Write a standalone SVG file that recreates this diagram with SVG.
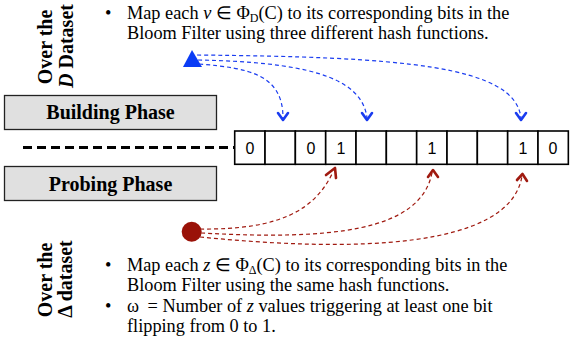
<svg xmlns="http://www.w3.org/2000/svg" width="579" height="347" viewBox="0 0 579 347">
<defs>
<style>
.txt{font-family:"Liberation Serif","Times New Roman",serif;font-size:18.3px;fill:#000}
.lbl{font-family:"Liberation Serif","Times New Roman",serif;font-size:20px;font-weight:bold;fill:#000}
.phase{fill:#e0e0e0;stroke:#222;stroke-width:1.3}
.cell{fill:#fff;stroke:#000;stroke-width:1.6}
.bit{font-family:"Liberation Sans",Arial,sans-serif;font-size:16px;fill:#000;text-anchor:middle}
.blue{fill:none;stroke:#1a3cf0;stroke-width:1.2;stroke-dasharray:4 3}
.red{fill:none;stroke:#a01a10;stroke-width:1.2;stroke-dasharray:4 3}
.bhead{fill:none;stroke:#1a3cf0;stroke-width:2.6;stroke-linecap:round;stroke-linejoin:round}
.rhead{fill:none;stroke:#a01a10;stroke-width:2.6;stroke-linecap:round;stroke-linejoin:round}
.sub{font-size:12px;baseline-shift:-3px}
</style>
</defs>

<g id="label-d">
<text class="lbl" transform="translate(52,47) rotate(-90)" text-anchor="middle">Over the</text>
<text class="lbl" transform="translate(73,46) rotate(-90)" text-anchor="middle"><tspan font-style="italic">D</tspan> Dataset</text>
</g>

<g id="text-top">
<text class="txt" x="105" y="19">•</text>
<text class="txt" x="127" y="19">Map each <tspan font-style="italic">v</tspan> ∈ Φ<tspan class="sub">D</tspan>(C) to its corresponding bits in the</text>
<text class="txt" x="127" y="39">Bloom Filter using three different hash functions.</text>
</g>

<g id="building-phase">
<rect class="phase" x="4.5" y="95.5" width="212" height="34"/>
<text class="lbl" x="110.5" y="119" text-anchor="middle">Building Phase</text>
</g>

<g id="probing-phase">
<rect class="phase" x="4.5" y="166.5" width="212" height="34"/>
<text class="lbl" x="110.5" y="191" text-anchor="middle">Probing Phase</text>
</g>

<g id="bloom-filter">
<rect class="cell" x="234.7" y="131" width="30.33" height="33.3"/>
<rect class="cell" x="265.03" y="131" width="30.33" height="33.3"/>
<rect class="cell" x="295.36" y="131" width="30.33" height="33.3"/>
<rect class="cell" x="325.69" y="131" width="30.33" height="33.3"/>
<rect class="cell" x="356.02" y="131" width="30.33" height="33.3"/>
<rect class="cell" x="386.35" y="131" width="30.33" height="33.3"/>
<rect class="cell" x="416.68" y="131" width="30.33" height="33.3"/>
<rect class="cell" x="447.01" y="131" width="30.33" height="33.3"/>
<rect class="cell" x="477.34" y="131" width="30.33" height="33.3"/>
<rect class="cell" x="507.67" y="131" width="30.33" height="33.3"/>
<rect class="cell" x="538" y="131" width="30.33" height="33.3"/>
<text class="bit" x="250" y="153.5">0</text>
<text class="bit" x="311" y="153.5">0</text>
<text class="bit" x="341" y="153.5">1</text>
<text class="bit" x="432" y="153.5">1</text>
<text class="bit" x="523" y="153.5">1</text>
<text class="bit" x="553" y="153.5">0</text>
</g>

<g id="d-element">
<polygon points="192,50 183,67 202,67" fill="#0a3cf5"/>
</g>

<g id="z-element">
<circle cx="191.7" cy="231.7" r="10" fill="#9a1208"/>
</g>

<g id="connectors">
<line x1="23" y1="147.5" x2="234" y2="147.5" stroke="#000" stroke-width="3" stroke-dasharray="9 5"/>
<path class="blue" d="M199,64 C250,68 283,75 283,118"/>
<path class="blue" d="M198,60 C300,62 362,75 367,118"/>
<path class="blue" d="M197,55 C400,57 515,65 521,118"/>
<path class="bhead" d="M278,113 L283,120 L288,113"/>
<path class="bhead" d="M362,113 L367,120 L372,113"/>
<path class="bhead" d="M516,113 L521,120 L526,113"/>
<path class="red" d="M200,229 C280,230 315,210 333,172"/>
<path class="red" d="M201,233 C330,240 420,232 432,173"/>
<path class="red" d="M200,237 C350,252 510,250 522,176"/>
<path class="rhead" d="M326,175 L335,168 L336,178"/>
<path class="rhead" d="M428,177 L433,170 L438,177"/>
<path class="rhead" d="M517,180 L522.5,174 L527,181"/>
</g>

<g id="label-delta">
<text class="lbl" transform="translate(52,280) rotate(-90)" text-anchor="middle">Over the</text>
<text class="lbl" transform="translate(72,279) rotate(-90)" text-anchor="middle">Δ dataset</text>
</g>

<g id="text-bottom">
<text class="txt" x="105" y="271">•</text>
<text class="txt" x="127" y="271">Map each <tspan font-style="italic">z</tspan> ∈ Φ<tspan class="sub">Δ</tspan>(C) to its corresponding bits in the</text>
<text class="txt" x="127" y="291">Bloom Filter using the same hash functions.</text>
<text class="txt" x="105" y="312">•</text>
<text class="txt" x="127" y="312">ω <tspan dx="4">= Number of </tspan><tspan font-style="italic">z</tspan> values triggering at least one bit</text>
<text class="txt" x="127" y="332">flipping from 0 to 1.</text>
</g>
</svg>
